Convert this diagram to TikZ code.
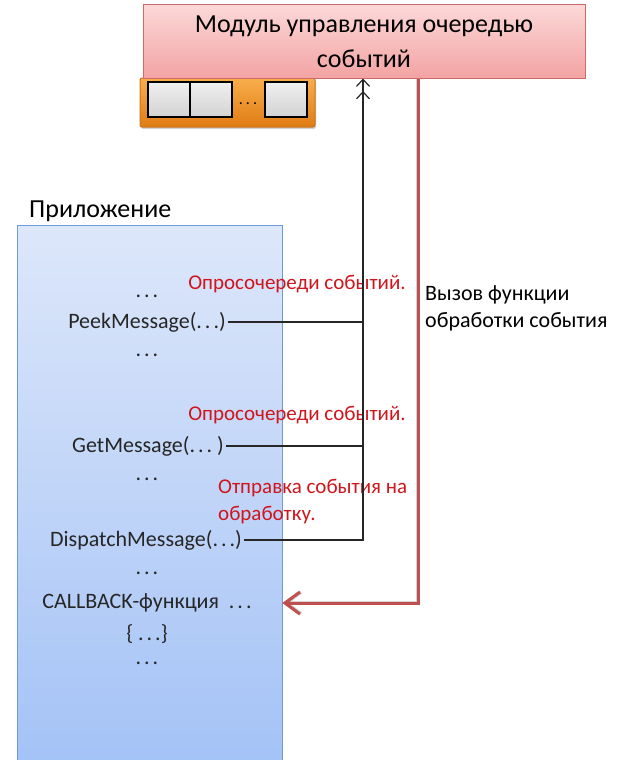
\documentclass[tikz,border=0pt]{standalone}
\usepackage{fontspec}
\setmainfont{Carlito}
\usetikzlibrary{arrows.meta,shadows}
\definecolor{modtop}{HTML}{FCD8D8}
\definecolor{modbot}{HTML}{F3A3A3}
\definecolor{modline}{HTML}{D06A6A}
\definecolor{qtop}{HTML}{F8AE4C}
\definecolor{qbot}{HTML}{E07C14}
\definecolor{qline}{HTML}{C8761C}
\definecolor{apptop}{HTML}{DDE7FA}
\definecolor{appbot}{HTML}{A3C2F6}
\definecolor{appline}{HTML}{6E9ADA}
\definecolor{callred}{HTML}{C0504D}
\definecolor{notered}{HTML}{D0151C}
\newcommand{\tdots}{.\kern3pt.\kern3pt.}
\tikzset{
  modbox/.style={draw=modline, line width=1pt, top color=modtop, bottom color=modbot,
    minimum width=442pt, minimum height=73pt, align=center, inner sep=0pt,
    font=\fontsize{26}{37}\selectfont},
  queuebox/.style={draw=qline, line width=1pt, rounded corners=2pt, top color=qtop, bottom color=qbot,
    minimum width=175pt, minimum height=49pt,
    drop shadow={shadow xshift=1pt, shadow yshift=-2pt, opacity=0.35}},
  cell/.style={draw=black, line width=1.2pt, top color=gray!12, bottom color=gray!35,
    minimum width=42pt, minimum height=35pt, inner sep=0pt},
  appbox/.style={draw=appline, line width=0.8pt, top color=apptop, bottom color=appbot,
    minimum width=265pt, minimum height=545pt, inner sep=0pt},
  code/.style={font=\fontsize{22}{24}\selectfont, text=black!85, inner sep=2pt},
  note/.style={font=\fontsize{21}{27}\selectfont, text=notered, inner sep=0pt, align=left},
  plain/.style={font=\fontsize{22}{27}\selectfont, inner sep=0pt, align=left},
  poll/.style={draw=black!85, line width=1.2pt},
  callback/.style={draw=callred, line width=3pt,
    -{Straight Barb[length=15pt,width=22pt,line width=3pt]}},
  callshadow/.style={draw=black, opacity=0.18, line width=4pt,
    -{Straight Barb[length=15pt,width=22pt,line width=4pt]}},
}
\begin{document}
\begin{tikzpicture}[x=1pt,y=-1pt]
\useasboundingbox (0,0) rectangle (625,760);
\clip (0,0) rectangle (625,760);

% event queue module and its queue
\node[queuebox] (queue) at (227.5,102.5) {};
\node[modbox] (mod) at (364,41.5) {\raisebox{-3pt}{Модуль управления очередью}\\\raisebox{-1pt}{событий}};
\node[cell] (c1) at (169,99.5) {};
\node[cell] (c2) at (211,99.5) {};
\node[cell] (c3) at (286,99.5) {};
\node[font=\fontsize{16}{16}\selectfont, inner sep=0pt] (cdots) at (248,104) {\tdots};

% application
\node[appbox] (app) at (149.5,497.5) {};
\node[font=\fontsize{26}{27}\selectfont, anchor=west, inner sep=0pt] (applbl) at (29,211) {Приложение};

\node[code] (d1) at (147,296) {\tdots};
\node[code] (peek) at (147,322) {PeekMessage(\tdots)};
\node[code] (d2) at (147,355) {\tdots};
\node[code] (get) at (148,446) {GetMessage(\tdots\ )};
\node[code] (d3) at (147,479) {\tdots};
\node[code] (disp) at (146,540) {DispatchMessage(\tdots)};
\node[code] (d4) at (147,573) {\tdots};
\node[code] (cb) at (147,603) {CALLBACK-функция~~\tdots};
\node[code] (d5) at (147,634) {\{ \tdots\}};
\node[code] (d6) at (147,663) {\tdots};

% labels
\node[note] (n1) at (297,284) {Опросочереди событий.};
\node[note] (n2) at (297,415) {Опросочереди событий.};
\node[note, anchor=north west] (n3) at (218,479) {Отправка события на\\обработку.};
\node[plain, anchor=north west] (n4) at (425,285) {Вызов функции\\обработки события};

% polling connectors
\coordinate (bus) at (363,0);
\coordinate (rbus) at (418,0);
\draw[poll] (peek.east) -- (peek.east -| bus);
\draw[poll] (get.east) -- (get.east -| bus);
\draw[poll, -{Straight Barb[length=7pt,width=13pt,sep=4pt] Straight Barb[length=7pt,width=13pt]}]
  (disp.east) -- (disp.east -| bus) -- (bus |- mod.south);

% callback connector with its soft shadow
\begin{scope}[xshift=1.5pt,yshift=-2pt]
\draw[callshadow, line join=miter] (rbus |- mod.south) -- (rbus |- cb) -- (app.east |- cb);
\end{scope}
\draw[callback, line join=miter] (rbus |- mod.south) -- (rbus |- cb) -- (app.east |- cb);
\end{tikzpicture}
\end{document}
